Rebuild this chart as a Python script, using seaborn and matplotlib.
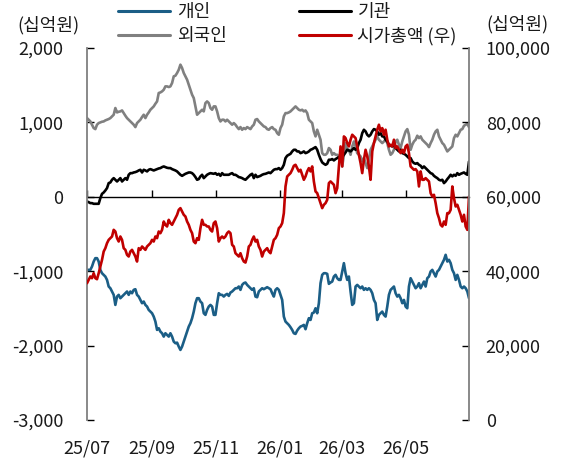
import matplotlib
matplotlib.use("Agg")
import matplotlib.pyplot as plt
import matplotlib.dates as mdates
import matplotlib.ticker as mticker
from matplotlib.lines import Line2D
import numpy as np
import pandas as pd
import seaborn as sns

# ---------------- data ----------------
start_date = "2025-07-01"
end_date = "2026-06-30"

# 개인 (left axis, 십억원)
individual = [
    -982, -982, -982, -937, -870, -825, -825, -870, -982, -1027,
    -1049, -1072, -1117, -1206, -1229, -1273, -1318, -1453, -1341, -1318,
    -1363, -1341, -1318, -1296, -1273, -1318, -1273, -1296, -1251, -1242,
    -1318, -1341, -1386, -1430, -1408, -1453, -1475, -1520, -1543, -1565,
    -1610, -1677, -1789, -1767, -1812, -1834, -1879, -1834, -1856, -1879,
    -1834, -1879, -1946, -1968, -1960, -2013, -2058, -2013, -1946, -1879,
    -1812, -1744, -1699, -1632, -1543, -1430, -1363, -1363, -1408, -1430,
    -1565, -1587, -1520, -1475, -1453, -1475, -1587,
    -1587, -1430, -1296, -1318, -1318, -1341, -1318, -1305, -1332, -1287,
    -1273, -1251, -1229, -1229, -1206, -1251, -1184, -1161, -1152, -1184,
    -1206, -1229, -1251, -1229, -1341, -1350, -1273, -1251, -1229, -1242,
    -1229, -1215, -1229, -1242, -1296, -1341, -1251, -1229, -1251, -1318,
    -1386, -1610, -1677, -1699, -1722, -1753, -1789, -1834, -1843, -1798,
    -1767, -1744, -1735, -1722, -1780, -1699, -1632, -1655, -1565, -1556,
    -1498, -1565, -1430, -1161, -1049, -1027, -1027, -1036, -1170, -1152,
    -1139, -1072, -1049, -1094, -1117,
    -1117, -1004, -892, -1027, -1117, -1072, -1273, -1453, -1430, -1206,
    -1184, -1206, -1229, -1206, -1251, -1229, -1251, -1229, -1251, -1296,
    -1386, -1430, -1655, -1587, -1565, -1543, -1587, -1610, -1475, -1318,
    -1251, -1229, -1206, -1296, -1341, -1318, -1363, -1430, -1386, -1475,
    -1498, -1206, -1094, -1139, -1184, -1229, -1206, -1161, -1229, -1184,
    -1139, -1206, -1094, -1072, -1004, -982, -1027, -1072, -1004, -982,
    -937, -892, -847, -780, -870, -847, -892, -982, -1027, -1117,
    -1049, -1117, -1206, -1229, -1206, -1229, -1273, -1363,
]

# 기관 (left axis, 십억원)
institution = [
    -63, -72, -85, -85, -94, -94, -94, -94, -18, 40,
    58, 85, 117, 184, 193, 229, 251, 229, 206, 229,
    251, 206, 229, 251, 229, 296, 318, 318, 327, 332,
    341, 354, 363, 327, 363, 354, 341, 363, 372, 363,
    354, 363, 372, 381, 386, 399, 408, 399, 390, 386,
    386, 372, 363, 354, 341, 318, 296, 282, 296, 309,
    318, 327, 327, 318, 296, 265, 229, 238, 274, 296,
    251, 274, 296, 309, 318, 314, 309,
    318, 296, 309, 282, 318, 296, 296, 296, 296, 309,
    318, 296, 296, 282, 265, 260, 251, 238, 229, 251,
    274, 296, 309, 251, 296, 265, 274, 282, 296, 305,
    309, 318, 327, 318, 341, 363, 372, 372, 386, 363,
    386, 430, 520, 552, 565, 578, 610, 632, 632, 610,
    610, 587, 596, 610, 587, 596, 610, 632, 641, 655,
    668, 632, 565, 507, 462, 444, 430, 444, 498, 498,
    507, 489, 507, 520, 534,
    498, 534, 565, 596, 632, 623, 610, 632, 655, 632,
    655, 722, 767, 856, 901, 879, 834, 812, 834, 879,
    910, 901, 879, 834, 856, 812, 812, 767, 744, 700,
    686, 677, 700, 655, 632, 610, 632, 587, 578, 565,
    543, 520, 520, 475, 453, 444, 453, 430, 417, 386,
    408, 386, 363, 341, 318, 309, 282, 265, 251, 229,
    220, 229, 184, 206, 238, 265, 296, 274, 296, 282,
    318, 296, 309, 318, 327, 309, 296, 475,
]

# 외국인 (left axis, 십억원)
foreign = [
    1058, 1036, 1013, 969, 924, 910, 969, 991, 1000, 1009,
    1013, 1027, 1036, 1045, 1058, 1081, 1103, 1193, 1134, 1143,
    1148, 1161, 1125, 1090, 1058, 1036, 1013, 991, 969, 937,
    991, 1013, 1036, 1072, 1103, 1058, 1103, 1134, 1170, 1193,
    1215, 1251, 1282, 1395, 1403, 1417, 1439, 1484, 1484, 1475,
    1484, 1529, 1619, 1628, 1664, 1708, 1776, 1731, 1664, 1619,
    1574, 1507, 1439, 1372, 1327, 1215, 1103, 1125, 1148, 1170,
    1148, 1260, 1282, 1260, 1193, 1170, 1215,
    1215, 1148, 1058, 1013, 1036, 1036, 1013, 1036, 1013, 991,
    969, 991, 969, 937, 910, 937, 901, 924, 910, 937,
    924, 910, 946, 969, 1036, 1045, 1013, 991, 969, 946,
    937, 910, 901, 924, 937, 910, 901, 856, 834, 924,
    969, 1081, 1125, 1125, 1134, 1148, 1170, 1193, 1215, 1193,
    1170, 1161, 1170, 1148, 1161, 1125, 1036, 1013, 991, 879,
    812, 901, 834, 767, 587, 565, 565, 587, 655, 632,
    565, 587, 565, 565, 543,
    565, 408, 565, 722, 632, 632, 565, 677, 744, 677,
    587, 565, 543, 475, 520, 453, 386, 498, 632, 677,
    722, 767, 812, 767, 744, 722, 744, 767, 722, 632,
    565, 587, 632, 744, 767, 700, 655, 744, 812, 879,
    910, 834, 632, 700, 744, 767, 821, 789, 812, 767,
    744, 722, 700, 668, 722, 767, 834, 879, 901, 812,
    767, 722, 700, 655, 610, 632, 655, 677, 789, 834,
    812, 856, 901, 910, 955, 969, 982, 937,
]

# 시가총액 (right axis, 십억원)
market_cap = [
    36770, 37670, 38570, 38120, 39460, 38120, 37850, 39460, 41260, 43050,
    45290, 46190, 47530, 48430, 48880, 49330, 51120, 50670, 48880, 47980,
    49330, 48430, 46190, 45740, 44400, 43950, 45290, 45740, 44840, 43950,
    42600, 46190, 45740, 46640, 46190, 45740, 46640, 47090, 47530, 48430,
    47980, 49330, 48880, 50670, 50220, 51120, 53360, 52470, 52020, 53810,
    52920, 52470, 53360, 54260, 55160, 56500, 56950, 56050, 55160, 54710,
    53360, 52470, 51120, 50220, 47980, 47530, 48880, 48430, 51570, 53810,
    52470, 52470, 52020, 52020, 51120, 50670, 52920,
    53360, 51570, 47980, 48880, 49330, 48880, 49330, 50220, 50670, 50220,
    47090, 46640, 44840, 44400, 43950, 44840, 43500, 42600, 42330, 43950,
    46640, 47090, 48430, 49330, 47980, 48430, 46640, 45740, 43950, 45290,
    45740, 46190, 45290, 44840, 46640, 48430, 48880, 49780, 51570, 52020,
    52920, 55610, 62780, 65470, 65920, 66370, 67260, 68340, 68610, 67710,
    66820, 67260, 65920, 64570, 65470, 66820, 67710, 66820, 68160, 64130,
    61430, 60990, 59640, 58300, 56950, 57850, 58300, 59190, 63680, 64130,
    63680, 63230, 60990, 62330, 68160,
    73540, 68160, 76230, 75780, 74440, 73540, 75340, 76680, 76230, 75780,
    73540, 71300, 69060, 66370, 69950, 72640, 70850, 68160, 64570, 72200,
    74440, 76230, 78030, 79370, 77580, 78470, 76680, 78030, 75340, 73540,
    73990, 73540, 75340, 73090, 73540, 72640, 71750, 72640, 71750, 73540,
    73990, 71750, 68160, 67710, 67260, 67440, 66820, 62780, 66820, 64570,
    64570, 65020, 64570, 64130, 60990, 60090, 60540, 58300, 55610, 54260,
    52470, 52020, 53360, 52470, 55610, 55610, 56500, 62780, 59640, 57400,
    57850, 56500, 55160, 53360, 55160, 52020, 51120, 60090,
]

series_names = ["개인", "기관", "외국인", "시가총액 (우)"]
unit_label = "(십억원)"
left_ticks = [-3000, -2000, -1000, 0, 1000, 2000]
right_ticks = [0, 20000, 40000, 60000, 80000, 100000]
xtick_dates = ["2025-07-01", "2025-09-01", "2025-11-01",
               "2026-01-01", "2026-03-01", "2026-05-01"]

# ---------------- styling ----------------
sns.set_style("white")
plt.rcParams["font.family"] = ["Noto Sans CJK KR", "DejaVu Sans"]
plt.rcParams["axes.unicode_minus"] = False

colors = {"개인": "#1b5e86", "기관": "#000000", "외국인": "#808080",
          "시가총액 (우)": "#c00000"}
FS = 13
TXT = "#1a1a1a"
LW = 1.9

def make_df(values, name):
    d = pd.date_range(start_date, end_date, periods=len(values))
    return pd.DataFrame({"date": d, name: values})

fig = plt.figure(figsize=(5.61, 4.59), dpi=100)
W, H = 561, 459
ax = fig.add_axes([87 / W, 1 - 420 / H, (469 - 87) / W, (420 - 48) / H])
ax2 = ax.twinx()

for name, vals in [("외국인", foreign), ("기관", institution), ("개인", individual)]:
    sns.lineplot(data=make_df(vals, name), x="date", y=name, ax=ax,
                 color=colors[name], lw=LW, legend=False)
sns.lineplot(data=make_df(market_cap, "시가총액 (우)"), x="date", y="시가총액 (우)",
             ax=ax2, color=colors["시가총액 (우)"], lw=LW, legend=False)

dfirst = pd.Timestamp(start_date)
dlast = pd.Timestamp(end_date)
ax.set_xlim(dfirst, dlast)
ax.set_ylim(left_ticks[0], left_ticks[-1])
ax2.set_ylim(right_ticks[0], right_ticks[-1])

fmt = mticker.FuncFormatter(lambda v, p: f"{v:,.0f}")
ax.set_yticks(left_ticks)
ax.yaxis.set_major_formatter(fmt)
ax2.set_yticks(right_ticks)
ax2.yaxis.set_major_formatter(fmt)

xt = pd.to_datetime(xtick_dates)
ax.set_xticks(xt)
ax.xaxis.set_major_formatter(mdates.DateFormatter("%y/%m"))

for a in (ax, ax2):
    a.set_xlabel("")
    a.set_ylabel("")
    a.spines["top"].set_visible(False)
    a.spines["bottom"].set_visible(False)
ax.spines["right"].set_visible(False)
ax2.spines["left"].set_visible(False)
ax.spines["left"].set_color("#808080")
ax.spines["left"].set_linewidth(1.3)
ax2.spines["right"].set_color("#808080")
ax2.spines["right"].set_linewidth(1.3)

ax.tick_params(axis="y", direction="in", length=5, width=1, color="black",
               pad=17, labelsize=FS, labelcolor=TXT, left=True, right=False)
ax2.tick_params(axis="y", direction="in", length=5, width=1, color="black",
                pad=12, labelsize=FS, labelcolor=TXT, right=True, left=False)
ax.tick_params(axis="x", length=0, pad=14, labelsize=FS, labelcolor=TXT)

# zero line with upward month ticks
sec = ax.secondary_xaxis(0.6)
sec.set_xticks(mdates.date2num(xt))
sec.tick_params(axis="x", direction="out", length=5, width=1, color="black",
                labeltop=False, labelbottom=False)
for s in sec.spines.values():
    s.set_color("black")
    s.set_linewidth(1.0)

# legend
order = ["개인", "외국인", "기관", "시가총액 (우)"]
handles = [Line2D([], [], color=colors[n], lw=2.2) for n in order]
fig.legend(handles, order, ncol=2, loc="upper left",
           bbox_to_anchor=(118 / W, 1 - 3 / H), frameon=False, fontsize=FS,
           handlelength=2.9, handletextpad=0.35, columnspacing=4.0,
           labelspacing=0.33, borderpad=0, borderaxespad=0, labelcolor=TXT)

fig.text(48 / W, 1 - 25 / H, unit_label, ha="center", va="center",
         fontsize=FS, color=TXT)
fig.text(517 / W, 1 - 24 / H, unit_label, ha="center", va="center",
         fontsize=FS, color=TXT)

fig.savefig("out.png", dpi=100)
